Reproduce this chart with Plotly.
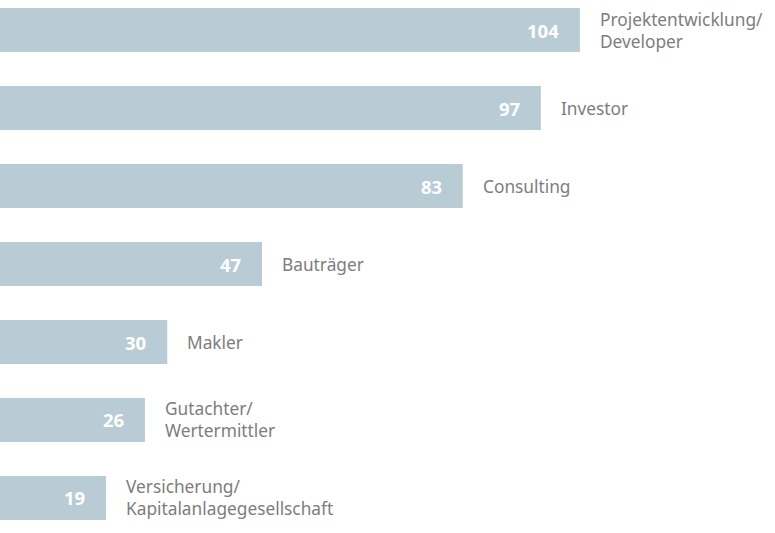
import plotly.graph_objects as go

categories = [
    "Projektentwicklung/<br>Developer",
    "Investor",
    "Consulting",
    "Bauträger",
    "Makler",
    "Gutachter/<br>Wertermittler",
    "Versicherung/<br>Kapitalanlagegesellschaft",
]
values = [104, 97, 83, 47, 30, 26, 19]

BAR_COLOR = "#b9cbd4"
LABEL_COLOR = "#7d7d7d"
FONT = "Noto Sans, Open Sans, sans-serif"

positions = list(range(len(values)))

fig = go.Figure()
fig.add_trace(go.Bar(
    x=values,
    y=positions,
    orientation="h",
    width=0.565,
    marker=dict(color=BAR_COLOR, line=dict(width=0)),
    hoverinfo="skip",
))

annotations = []
for pos, val, cat in zip(positions, values, categories):
    annotations.append(dict(
        x=val, y=pos, xref="x", yref="y",
        text=f"<b>{val}</b>", showarrow=False,
        xanchor="right", yanchor="middle", xshift=-19,
        font=dict(family=FONT, size=18.5, color="white"),
    ))
    annotations.append(dict(
        x=val, y=pos, xref="x", yref="y",
        text=cat, showarrow=False, align="left",
        xanchor="left", yanchor="middle", xshift=18,
        font=dict(family=FONT, size=17.3, color=LABEL_COLOR),
    ))

fig.update_layout(
    width=775, height=533,
    margin=dict(l=0, r=0, t=0, b=0),
    paper_bgcolor="white", plot_bgcolor="white",
    showlegend=False,
    xaxis=dict(range=[0, 139], visible=False, fixedrange=True),
    yaxis=dict(range=[6.449, -0.385], visible=False, fixedrange=True),
    annotations=annotations,
)

fig.write_html(
    "out.html",
    config={"displayModeBar": False},
    post_script="document.body.style.margin='0';document.body.style.overflow='hidden';",
)
